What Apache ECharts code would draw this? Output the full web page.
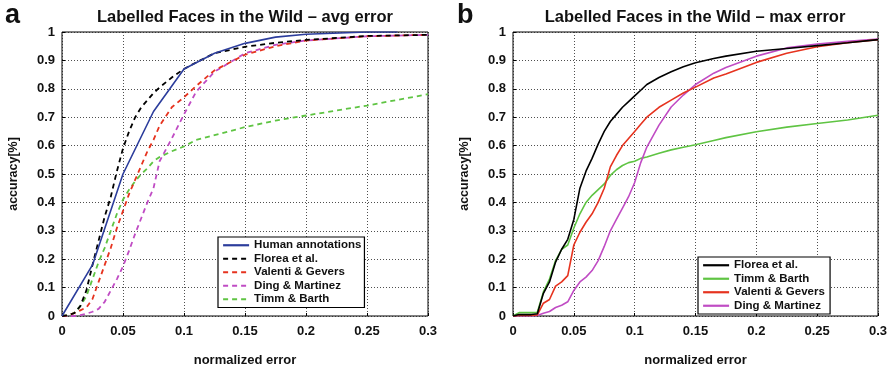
<!DOCTYPE html>
<html>
<head>
<meta charset="utf-8">
<script src="https://cdn.jsdelivr.net/npm/echarts@6/dist/echarts.min.js"></script>
<style>
    html, body { margin: 0; padding: 0; background: #fff; }
    #chart { width: 892px; height: 372px; }
</style>
</head>
<body>
<div id="chart"></div>
<script>
// panel a - average error
var avgHumanX = [0, 0.025, 0.05, 0.075, 0.1, 0.125, 0.15, 0.175, 0.2, 0.25, 0.275];
var avgHuman = [0, 0.18, 0.5, 0.72, 0.87, 0.925, 0.96, 0.982, 0.992, 1.0, 1.0];

var avgX = [0, 0.005, 0.01, 0.015, 0.02, 0.025, 0.03, 0.035, 0.04, 0.045, 0.05, 0.055, 0.06, 0.065,
    0.07, 0.075, 0.08, 0.09, 0.1, 0.11, 0.125, 0.15, 0.175, 0.2, 0.25, 0.3];
var avgFlorea = [0, 0.003, 0.01, 0.035, 0.09, 0.18, 0.265, 0.35, 0.42, 0.51, 0.59, 0.65, 0.70, 0.735,
    0.76, 0.785, 0.805, 0.84, 0.87, 0.893, 0.925, 0.948, 0.962, 0.972, 0.986, 0.99];
var avgValenti = [0, 0.002, 0.01, 0.02, 0.03, 0.06, 0.12, 0.18, 0.24, 0.31, 0.37, 0.43, 0.48, 0.53,
    0.58, 0.62, 0.67, 0.735, 0.77, 0.81, 0.865, 0.92, 0.95, 0.97, 0.985, 0.99];
var avgDing = [0, 0, 0, 0.003, 0.008, 0.015, 0.025, 0.05, 0.09, 0.13, 0.175, 0.23, 0.29, 0.345,
    0.40, 0.45, 0.545, 0.625, 0.71, 0.79, 0.86, 0.925, 0.955, 0.97, 0.985, 0.99];
var avgTimm = [0, 0.003, 0.01, 0.035, 0.07, 0.13, 0.19, 0.24, 0.30, 0.36, 0.41, 0.445, 0.475, 0.50,
    0.52, 0.545, 0.56, 0.58, 0.597, 0.62, 0.637, 0.665, 0.688, 0.706, 0.741, 0.781];

// panel b - maximum error
var maxX = [0, 0.005, 0.01, 0.015, 0.02, 0.025, 0.03, 0.035, 0.04, 0.045, 0.05, 0.055, 0.06, 0.065,
    0.07, 0.075, 0.08, 0.085, 0.09, 0.095, 0.1, 0.105, 0.11, 0.12, 0.13, 0.14, 0.15, 0.165, 0.175,
    0.2, 0.225, 0.25, 0.275, 0.3];
var maxFlorea = [0, 0.005, 0.005, 0.005, 0.008, 0.08, 0.12, 0.19, 0.235, 0.27, 0.34, 0.45, 0.51, 0.555,
    0.605, 0.65, 0.685, 0.71, 0.735, 0.755, 0.775, 0.795, 0.815, 0.84, 0.86, 0.878, 0.892, 0.907, 0.915,
    0.932, 0.942, 0.952, 0.962, 0.973];
var maxTimm = [0, 0.012, 0.012, 0.012, 0.013, 0.085, 0.13, 0.195, 0.235, 0.25, 0.31, 0.36, 0.40, 0.425,
    0.445, 0.465, 0.495, 0.515, 0.53, 0.54, 0.545, 0.555, 0.56, 0.573, 0.585, 0.594, 0.603, 0.618, 0.628,
    0.649, 0.665, 0.678, 0.69, 0.707];
var maxValenti = [0, 0.002, 0.002, 0.002, 0.004, 0.045, 0.058, 0.105, 0.12, 0.142, 0.25, 0.295, 0.33, 0.36,
    0.40, 0.45, 0.525, 0.565, 0.6, 0.625, 0.65, 0.675, 0.70, 0.735, 0.76, 0.785, 0.806, 0.838, 0.852,
    0.893, 0.925, 0.948, 0.962, 0.973];
var maxDing = [0, 0, 0, 0, 0.002, 0.01, 0.016, 0.03, 0.038, 0.05, 0.09, 0.12, 0.137, 0.16,
    0.195, 0.245, 0.30, 0.34, 0.38, 0.42, 0.47, 0.54, 0.595, 0.672, 0.736, 0.778, 0.815, 0.855, 0.875,
    0.915, 0.944, 0.958, 0.967, 0.975];

var FONT = 'Liberation Sans, Arial, Helvetica, sans-serif';
var BLUE = '#2c3d9c', RED = '#e6331f', MAGENTA = '#c04cc4', GREEN = '#5fc443', BLACK = '#000';

var pairs = function(xs, ys) {
    var out = [];
    for (var i = 0; i < xs.length; i++) {
        out.push([xs[i], ys[i]]);
    }
    return out;
};

var makeX = function(idx) {
    return {
        type: 'value', gridIndex: idx, min: 0, max: 0.3, interval: 0.05,
        name: 'normalized error', nameLocation: 'middle', nameGap: 38,
        nameTextStyle: { fontFamily: FONT, fontWeight: 'bold', fontSize: 13, color: '#111' },
        axisLine: { show: false },
        axisTick: { show: true, inside: true, length: 3, lineStyle: { color: '#000' } },
        axisLabel: {
            margin: 9, fontFamily: FONT, fontWeight: 'bold', fontSize: 13, color: '#111',
            formatter: function(v) { return String(+v.toFixed(2)); }
        },
        splitLine: { show: true, lineStyle: { color: '#222', type: [1, 2], width: 0.8 } }
    };
};

var makeY = function(idx) {
    return {
        type: 'value', gridIndex: idx, min: 0, max: 1, interval: 0.1,
        name: 'accuracy[%]', nameLocation: 'middle', nameGap: 42, nameRotate: 90,
        nameTextStyle: { fontFamily: FONT, fontWeight: 'bold', fontSize: 12.5, color: '#111' },
        axisLine: { show: false },
        axisTick: { show: true, inside: true, length: 3, lineStyle: { color: '#000' } },
        axisLabel: {
            margin: 7, fontFamily: FONT, fontWeight: 'bold', fontSize: 13, color: '#111',
            formatter: function(v) { return String(+v.toFixed(1)); }
        },
        splitLine: { show: true, lineStyle: { color: '#222', type: [1, 2], width: 0.8 } }
    };
};

var line = function(name, idx, data, color, dashed) {
    return {
        name: name, type: 'line', xAxisIndex: idx, yAxisIndex: idx,
        data: data, symbol: 'none', smooth: false, animation: false,
        lineStyle: { color: color, width: dashed ? 1.8 : 1.6, type: dashed ? [5, 4] : 'solid' },
        itemStyle: { color: color }
    };
};

var legendBase = {
    orient: 'vertical', itemWidth: 26, itemHeight: 8, itemGap: 1,
    backgroundColor: '#fff', borderColor: '#000', borderWidth: 1.2, borderRadius: 0,
    itemStyle: { opacity: 0 },
    lineStyle: { width: 2.2 },
    textStyle: { fontFamily: FONT, fontWeight: 'bold', fontSize: 11.5, color: '#111', lineHeight: 12.5 },
    selectedMode: false
};

var option = {
    animation: false,
    grid: [
        { left: 62, top: 32, width: 366, height: 288, show: true, borderColor: '#000', borderWidth: 1 },
        { left: 513, top: 32, width: 365, height: 288, show: true, borderColor: '#000', borderWidth: 1 }
    ],
    xAxis: [makeX(0), makeX(1)],
    yAxis: [makeY(0), makeY(1)],
    legend: [
        Object.assign({}, legendBase, {
            left: 218, top: 237, padding: [2, 3, 2, 4],
            data: ['Human annotations', 'Florea et al.', 'Valenti & Gevers', 'Ding & Martinez', 'Timm & Barth']
        }),
        Object.assign({}, legendBase, {
            left: 698, top: 257, padding: [2, 2, 2, 4],
            data: ['Florea et al. ', 'Timm & Barth ', 'Valenti & Gevers ', 'Ding & Martinez ']
        })
    ],
    graphic: [
        { type: 'text', x: 5, y: 2, style: { text: 'a', fontFamily: FONT, fontWeight: 'bold', fontSize: 27, fill: '#111' } },
        { type: 'text', x: 457, y: 2, style: { text: 'b', fontFamily: FONT, fontWeight: 'bold', fontSize: 27, fill: '#111' } },
        { type: 'text', x: 245, y: 17, style: { text: 'Labelled Faces in the Wild \u2013 avg error', fontFamily: FONT, fontWeight: 'bold', fontSize: 16.5, fill: '#111', align: 'center', verticalAlign: 'middle' } },
        { type: 'text', x: 695, y: 17, style: { text: 'Labelled Faces in the Wild \u2013 max error', fontFamily: FONT, fontWeight: 'bold', fontSize: 16.5, fill: '#111', align: 'center', verticalAlign: 'middle' } }
    ],
    series: [
        line('Timm & Barth', 0, pairs(avgX, avgTimm), GREEN, true),
        line('Ding & Martinez', 0, pairs(avgX, avgDing), MAGENTA, true),
        line('Valenti & Gevers', 0, pairs(avgX, avgValenti), RED, true),
        line('Florea et al.', 0, pairs(avgX, avgFlorea), BLACK, true),
        line('Human annotations', 0, pairs(avgHumanX, avgHuman), BLUE, false),

        line('Timm & Barth ', 1, pairs(maxX, maxTimm), GREEN, false),
        line('Ding & Martinez ', 1, pairs(maxX, maxDing), MAGENTA, false),
        line('Valenti & Gevers ', 1, pairs(maxX, maxValenti), RED, false),
        line('Florea et al. ', 1, pairs(maxX, maxFlorea), BLACK, false)
    ]
};

var myChart = echarts.init(document.getElementById('chart'));
myChart.setOption(option);
</script>
</body>
</html>
